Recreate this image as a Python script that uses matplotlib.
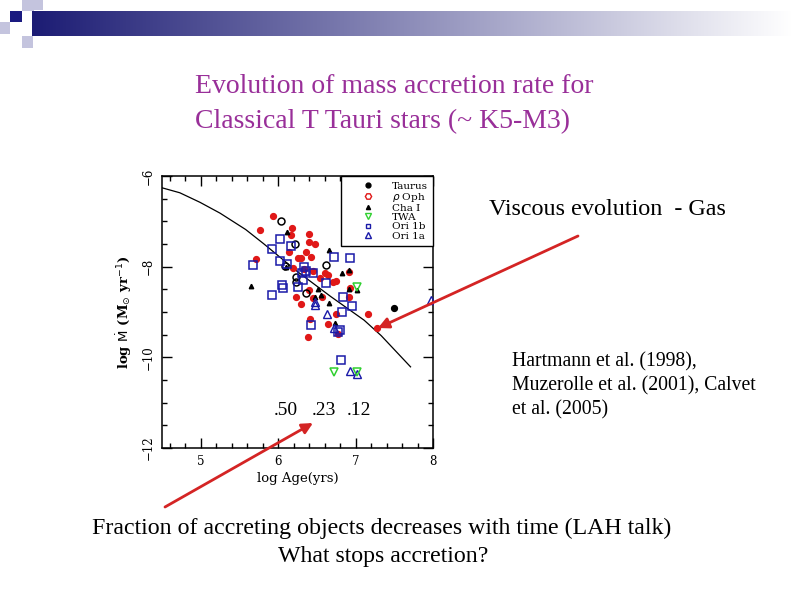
import matplotlib
matplotlib.use('Agg')
import matplotlib.pyplot as plt
import numpy as np
from matplotlib.patches import Rectangle, FancyArrowPatch
from matplotlib.lines import Line2D

# ---------------- data ----------------
red_x = [5.93, 5.77, 6.18, 6.17, 6.40, 6.40, 6.48, 6.14, 6.36, 6.42, 6.26, 6.30, 5.72,
         6.19, 6.34, 6.45, 6.54, 6.61, 6.65, 6.71, 6.75, 6.23, 6.40, 6.29, 6.57, 6.92,
         6.45, 6.41, 6.64, 6.38, 6.75, 6.93, 7.16, 6.91, 6.77, 7.28]
red_y = [-6.89, -7.19, -7.14, -7.30, -7.28, -7.46, -7.50, -7.68, -7.67, -7.78, -7.80, -7.80, -7.84,
         -8.02, -8.05, -8.10, -8.24, -8.15, -8.19, -8.33, -8.32, -8.66, -8.52, -8.83, -8.66, -8.66,
         -8.69, -9.16, -9.27, -9.55, -9.05, -8.48, -9.05, -8.12, -9.49, -9.36]

opc_x = [6.04, 6.22, 6.62, 6.09, 6.23, 6.23, 6.36]
opc_y = [-6.99, -7.49, -7.96, -7.99, -8.22, -8.33, -8.59]

tri_x = [5.65, 6.12, 6.66, 6.92, 6.83, 6.92, 7.02, 6.51, 6.55, 6.66, 6.10, 6.74, 6.47]
tri_y = [-8.43, -7.23, -7.63, -8.08, -8.13, -8.50, -8.52, -8.50, -8.63, -8.80, -8.00, -9.25, -8.68]

sq_x = [6.02, 5.92, 6.16, 5.67, 6.02, 6.12, 6.72, 6.93, 6.34, 6.36, 6.31, 6.45, 6.32,
        6.25, 6.62, 6.05, 6.06, 5.92, 6.84, 6.96, 6.83, 6.42, 6.80, 6.77, 6.81]
sq_y = [-7.38, -7.62, -7.55, -7.96, -7.88, -7.95, -7.78, -7.80, -8.00, -8.10, -8.15, -8.15, -8.30,
        -8.44, -8.37, -8.41, -8.47, -8.63, -8.68, -8.87, -9.01, -9.29, -9.40, -9.45, -10.05]

btri_x = [6.47, 6.47, 6.63, 6.72, 6.93, 7.02, 7.97]
btri_y = [-8.78, -8.85, -9.05, -9.36, -10.31, -10.36, -8.74]

twa_x = [7.02, 6.72, 7.02]
twa_y = [-8.44, -10.33, -10.33]

taurus_x = [7.50]
taurus_y = [-8.92]

curve_x = [4.50, 4.73, 4.99, 5.25, 5.58, 5.81, 6.25, 6.68, 7.11, 7.33, 7.71]
curve_y = [-6.26, -6.37, -6.58, -6.82, -7.18, -7.49, -8.11, -8.66, -9.18, -9.52, -10.21]

x_ticks = [5, 6, 7, 8]
y_ticks = [-6, -8, -10, -12]
legend_labels = ["Taurus", r"$\rho$ Oph", "Cha I", "TWA", "Ori 1b", "Ori 1a"]
fractions = [".50", ".23", ".12"]

title_lines = ["Evolution of mass accretion rate for", "Classical T Tauri stars (~ K5-M3)"]
ref_lines = ["Hartmann et al. (1998),", "Muzerolle et al. (2001), Calvet", "et al. (2005)"]

# ---------------- figure ----------------
W, H = 794, 595
fig = plt.figure(figsize=(7.94, 5.95), dpi=100)
fig.patch.set_facecolor('white')

bg = fig.add_axes([0, 0, 1, 1], zorder=0)
bg.set_xlim(0, W); bg.set_ylim(H, 0); bg.axis('off')
g = np.linspace(0, 1, 400)
c0 = np.array([0x1c, 0x1c, 0x74]) / 255.0
c1 = np.array([1.0, 1.0, 1.0])
img = (c0[None, :] * (1 - g[:, None]) + c1[None, :] * g[:, None])[None, :, :]
bg.imshow(img, extent=[32, 792, 36, 11], aspect='auto', interpolation='bilinear')
bg.add_patch(Rectangle((10, 11), 12, 11, facecolor='#1a1a80', edgecolor='none'))
for (rx, ry, rw, rh) in [(22, 0, 12, 11), (34, 0, 9, 10), (22, 36, 11, 12), (0, 22, 10, 12)]:
    bg.add_patch(Rectangle((rx, ry), rw, rh, facecolor='#c4c4de', edgecolor='none'))

# ---------------- chart ----------------
serif = 'DejaVu Serif'
ax = fig.add_axes([162 / W, 1 - 448 / H, (433 - 162) / W, (448 - 176) / H], zorder=1)
ax.set_xlim(4.5, 8)
ax.set_ylim(-12, -6)

ax.plot(curve_x, curve_y, color='black', lw=0.9, zorder=2)
ax.plot(red_x, red_y, 'o', ms=4.2, mfc='#e01818', mec='#e01818', ls='none', zorder=3)
ax.plot(opc_x, opc_y, 'o', ms=5, mfc='none', mec='black', mew=1.1, ls='none', zorder=3)
ax.plot(tri_x, tri_y, '^', ms=3.2, mfc='black', mec='black', ls='none', zorder=4)
ax.plot(sq_x, sq_y, 's', ms=6.3, mfc='none', mec='#1a1aa8', mew=1.1, ls='none', zorder=4)
ax.plot(btri_x, btri_y, '^', ms=6.3, mfc='none', mec='#1a1aa8', mew=1.0, ls='none', zorder=4)
ax.plot(twa_x, twa_y, 'v', ms=6.3, mfc='none', mec='#30d030', mew=1.1, ls='none', zorder=4)
ax.plot(taurus_x, taurus_y, 'o', ms=4.2, mfc='black', mec='black', ls='none', zorder=4)

ax.set_xticks(x_ticks)
ax.set_xticklabels([str(v) for v in x_ticks], fontfamily=serif, fontsize=8.5)
ax.set_yticks(y_ticks)
ax.set_yticklabels([u"\u2212" + str(-v) for v in y_ticks], fontfamily=serif, fontsize=8.5,
                   rotation=90, va='center')
ax.xaxis.set_minor_locator(matplotlib.ticker.MultipleLocator(0.2))
ax.yaxis.set_minor_locator(matplotlib.ticker.MultipleLocator(0.5))
ax.tick_params(which='both', direction='in', top=True, right=True, width=1.0, colors='black')
ax.tick_params(which='major', length=7, pad=5)
ax.tick_params(which='minor', length=3.5)
for s in ax.spines.values():
    s.set_linewidth(1.1)

ax.set_xlabel("log Age(yrs)", fontfamily=serif, fontsize=9.5, labelpad=3)
ax.set_ylabel(r"log $\dot{\mathrm{M}}$ (M$_{\odot}$ yr$^{-1}$)", fontfamily=serif, fontsize=9.5,
              fontweight='bold', labelpad=6)

handles = [
    Line2D([], [], marker='o', ms=3.5, mfc='black', mec='black', ls='none'),
    Line2D([], [], marker='H', ms=4.5, mfc='none', mec='#e01818', ls='none'),
    Line2D([], [], marker='^', ms=3, mfc='black', mec='black', ls='none'),
    Line2D([], [], marker='v', ms=4.5, mfc='none', mec='#30d030', ls='none'),
    Line2D([], [], marker='s', ms=3, mfc='none', mec='#1a1aa8', ls='none'),
    Line2D([], [], marker='^', ms=4.5, mfc='none', mec='#1a1aa8', ls='none'),
]
leg = ax.legend(handles, legend_labels, loc='upper right', borderaxespad=0, fancybox=False,
                framealpha=1, edgecolor='black', prop={'family': serif, 'size': 7.5},
                handlelength=4.2, handletextpad=0.2, labelspacing=0.0, borderpad=0.5,
                markerfirst=True)
leg.get_frame().set_linewidth(1.0)
leg.set_zorder(5)

# ---------------- slide texts & arrows ----------------
ov = fig.add_axes([0, 0, 1, 1], zorder=2)
ov.set_xlim(0, W); ov.set_ylim(H, 0); ov.axis('off')
ov.patch.set_alpha(0)

tfont = 'Liberation Serif'
ov.text(195, 93, title_lines[0], fontfamily=tfont, fontsize=20.0, color='#992f99', va='baseline')
ov.text(195, 128, title_lines[1], fontfamily=tfont, fontsize=20.0, color='#992f99', va='baseline')

ov.text(489, 215, "Viscous evolution  - Gas", fontfamily=tfont, fontsize=17.4, color='black', va='baseline')
for i, line in enumerate(ref_lines):
    ov.text(512, 366 + 24 * i, line, fontfamily=tfont, fontsize=14.2, color='black', va='baseline')

for xp, f in zip([274, 312, 347], fractions):
    ov.text(xp, 415, f, fontfamily=tfont, fontsize=14, color='black', va='baseline')

ov.text(382, 534, "Fraction of accreting objects decreases with time (LAH talk)", fontfamily=tfont,
        fontsize=17.2, color='black', va='baseline', ha='center')
ov.text(383, 562, "What stops accretion?", fontfamily=tfont, fontsize=17.2, color='black',
        va='baseline', ha='center')

arrow_color = '#d42424'
ov.add_patch(FancyArrowPatch((578, 236), (378, 328), arrowstyle='-|>', mutation_scale=16,
                             color=arrow_color, lw=2, shrinkA=0, shrinkB=0))
ov.add_patch(FancyArrowPatch((165, 507), (313, 423), arrowstyle='-|>', mutation_scale=16,
                             color=arrow_color, lw=2, shrinkA=0, shrinkB=0))

fig.savefig('out.png', dpi=100, facecolor='white')
